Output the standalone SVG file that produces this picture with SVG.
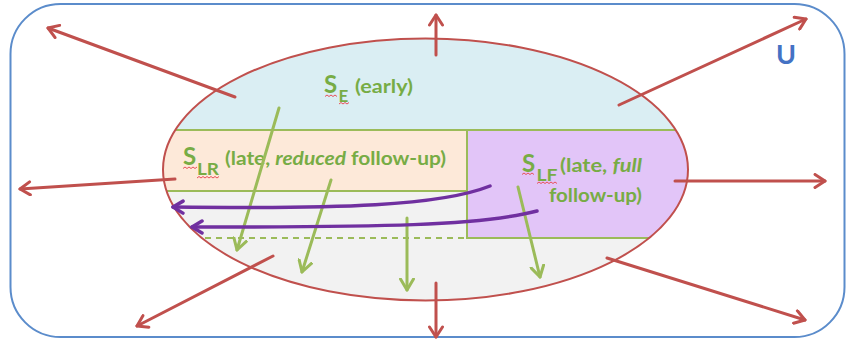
<svg xmlns="http://www.w3.org/2000/svg" width="863" height="341" viewBox="0 0 863 341">
<style>
.lbl{font-family:Lato,"Open Sans","Liberation Sans",sans-serif;font-weight:bold;fill:#77AC45;}
.red{stroke:#C0504D;stroke-width:3;fill:none;stroke-linecap:round;}
.grn{stroke:#9BBB59;stroke-width:3;fill:none;stroke-linecap:round;}
.pur{stroke:#7030A0;stroke-width:3.5;fill:none;stroke-linecap:round;}
.edge{stroke:#9BBB59;stroke-width:2;fill:none;}
.squig{stroke:#E8505B;stroke-width:1;fill:none;}
</style>
<defs>
<marker id="hr" viewBox="-12 -8 14 16" refX="0" refY="0" markerWidth="14" markerHeight="16" markerUnits="userSpaceOnUse" orient="auto"><path d="M-10,-6.5 L0,0 L-10,6.5" fill="none" stroke="#C0504D" stroke-width="3" stroke-linecap="round" stroke-linejoin="round"/></marker>
<marker id="hg" viewBox="-12 -8 14 16" refX="0" refY="0" markerWidth="14" markerHeight="16" markerUnits="userSpaceOnUse" orient="auto"><path d="M-11,-6.5 L0,0 L-11,6.5" fill="none" stroke="#9BBB59" stroke-width="3" stroke-linecap="round" stroke-linejoin="round"/></marker>
<marker id="hp" viewBox="-12 -8 14 16" refX="0" refY="0" markerWidth="14" markerHeight="16" markerUnits="userSpaceOnUse" orient="auto"><path d="M-10,-6 L0,0 L-10,6" fill="none" stroke="#7030A0" stroke-width="3.5" stroke-linecap="round" stroke-linejoin="round"/></marker>
<clipPath id="ell"><ellipse cx="425.5" cy="169.5" rx="262.5" ry="131"/></clipPath>
</defs>
<rect width="863" height="341" fill="#FFFFFF"/>
<g id="universe">
<rect x="10.5" y="4" width="834" height="333" rx="50" ry="50" fill="none" stroke="#5B8CCB" stroke-width="2"/>
<text x="786" y="64" text-anchor="middle" font-family="Lato,'Open Sans','Liberation Sans',sans-serif" font-weight="bold" font-size="27" fill="#4472C4">U</text>
</g>
<g id="population">
<g clip-path="url(#ell)">
<rect x="150" y="30" width="560" height="290" fill="#F2F2F2"/>
<rect x="150" y="30" width="560" height="100" fill="#DAEEF3"/>
<rect x="150" y="130" width="317" height="61" fill="#FDE9D9"/>
<rect x="467" y="130" width="240" height="108" fill="#E2C5F8"/>
<path class="edge" d="M150,130 H710 M150,191 H467 M467,130 V238 H710"/>
<path d="M205,238 H466" stroke="#9BBB59" stroke-width="2" stroke-dasharray="6,5" fill="none"/>
</g>
<ellipse cx="425.5" cy="169.5" rx="262.5" ry="131" fill="none" stroke="#C0504D" stroke-width="2"/>
</g>
<g id="SE">
<text class="lbl" x="324" y="93" font-size="24">S</text>
<text class="lbl" x="338.5" y="102" font-size="17">E</text>
<text class="lbl" x="355" y="93" font-size="19" textLength="58" lengthAdjust="spacingAndGlyphs">(early)</text>
<path class="squig" d="M325,96.5 l2,-1.5 l2,1.5 l2,-1.5 l2,1.5 l2,-1.5 l2,1.5"/>
<path class="squig" d="M339,104 l2,-1.5 l2,1.5 l2,-1.5 l2,1.5 l2,-1.5"/>
</g>
<g id="SLR">
<text class="lbl" x="183" y="165" font-size="24">S</text>
<text class="lbl" x="197" y="175" font-size="17" textLength="22" lengthAdjust="spacingAndGlyphs">LR</text>
<text class="lbl" x="225" y="165" font-size="19" textLength="221" lengthAdjust="spacingAndGlyphs">(late, <tspan font-style="italic">reduced</tspan> follow-up)</text>
<path class="squig" d="M183,168.5 l2,-1.5 l2,1.5 l2,-1.5 l2,1.5 l2,-1.5 l2,1.5 l2,-1.5"/>
<path class="squig" d="M197,178 l2,-1.5 l2,1.5 l2,-1.5 l2,1.5 l2,-1.5 l2,1.5 l2,-1.5 l2,1.5 l2,-1.5 l2,1.5 l2,-1.5"/>
</g>
<g id="SLF">
<text class="lbl" x="522" y="172" font-size="24">S</text>
<text class="lbl" x="536.5" y="181" font-size="17" textLength="21" lengthAdjust="spacingAndGlyphs">LF</text>
<text class="lbl" x="560" y="172" font-size="19" textLength="82" lengthAdjust="spacingAndGlyphs">(late, <tspan font-style="italic">full</tspan></text>
<text class="lbl" x="549" y="202" font-size="19" textLength="93" lengthAdjust="spacingAndGlyphs">follow-up)</text>
<path class="squig" d="M522,174.5 l2,-1.5 l2,1.5 l2,-1.5 l2,1.5 l2,-1.5 l2,1.5"/>
<path class="squig" d="M537,183.5 l2,-1.5 l2,1.5 l2,-1.5 l2,1.5 l2,-1.5 l2,1.5 l2,-1.5 l2,1.5 l2,-1.5 l2,1.5"/>
</g>
<g id="connectors">
<path class="red" marker-end="url(#hr)" d="M235,97 L48,28"/>
<path class="red" marker-end="url(#hr)" d="M436,55 L436,15"/>
<path class="red" marker-end="url(#hr)" d="M619,105 L806,19"/>
<path class="red" marker-end="url(#hr)" d="M175,179 L20,189"/>
<path class="red" marker-end="url(#hr)" d="M675,181 L825,181"/>
<path class="red" marker-end="url(#hr)" d="M273,256 L137,326"/>
<path class="red" marker-end="url(#hr)" d="M436,283 L436,337"/>
<path class="red" marker-end="url(#hr)" d="M607,258 L805,320"/>
<path class="grn" marker-end="url(#hg)" d="M279,108 L237,250"/>
<path class="grn" marker-end="url(#hg)" d="M331,180 L302,272"/>
<path class="grn" marker-end="url(#hg)" d="M407,218 L407,290"/>
<path class="grn" marker-end="url(#hg)" d="M518,187 L540,277"/>
<path class="pur" marker-end="url(#hp)" d="M490,186 C440,206 340,209 173,207"/>
<path class="pur" marker-end="url(#hp)" d="M537,211 C480,226 380,227 192,227"/>
</g>
</svg>
